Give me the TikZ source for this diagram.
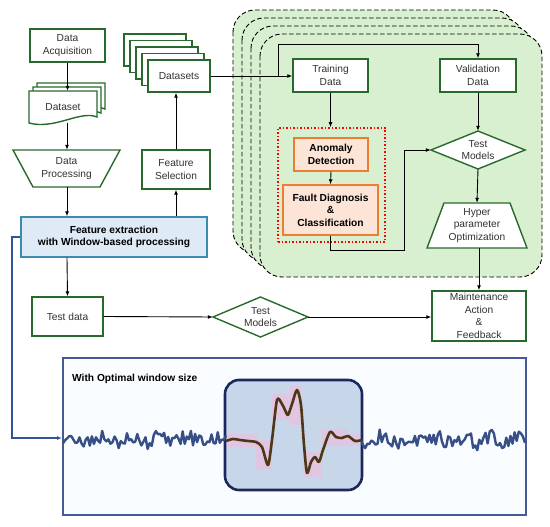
\documentclass[tikz,border=0pt]{standalone}
\usepackage{fontspec}
\setmainfont{Liberation Sans}
\usetikzlibrary{arrows.meta}
\definecolor{gborder}{RGB}{40,105,45}
\definecolor{gfill}{RGB}{217,240,208}
\definecolor{feborder}{RGB}{60,140,175}
\definecolor{fefill}{RGB}{222,234,246}
\definecolor{oborder}{RGB}{237,125,49}
\definecolor{ofill}{RGB}{252,228,214}
\definecolor{navy}{RGB}{28,40,90}
\definecolor{winfill}{RGB}{200,214,234}
\definecolor{sigblue}{RGB}{55,78,135}
\definecolor{linkblue}{RGB}{50,85,150}
\definecolor{boxblue}{RGB}{70,90,150}
\definecolor{txt}{RGB}{50,50,50}
\definecolor{glow}{RGB}{245,185,222}
\definecolor{sigbrown}{RGB}{78,55,20}
\newcommand\myfs{\fontsize{10.2}{12.5}\selectfont}
\newcommand\mybf{\fontsize{10.2}{12.5}\selectfont\bfseries}
\begin{document}
\begin{tikzpicture}[x=1pt,y=-1pt,
  nd/.style={rectangle, inner sep=0pt, align=center, font=\myfs, text=txt},
  gbox/.style={nd, draw=gborder, line width=1.4pt, fill=white},
  gshape/.style={draw=gborder, line width=1.4pt, fill=white, line join=miter},
  obox/.style={nd, draw=oborder, line width=1.4pt, fill=ofill, font=\mybf, text=black},
  arr/.style={draw=black, line width=0.9pt, -{Latex[length=5pt,width=4pt]}},
  region/.style={draw=black, line width=0.9pt, dash pattern=on 4.5pt off 2.5pt, fill=gfill, rounded corners=22pt},
  sig/.style={draw=sigblue, line width=2.4pt, line join=round},
]
\useasboundingbox (0,0) rectangle (550,527);

% ---------- green stacked region ----------
\foreach \k in {3,2,1,0}{
  \path[region] (260-9*\k,34-8*\k) rectangle (542-9*\k,277-8*\k);
}

% ---------- left column ----------
\node[gbox, minimum width=75pt, minimum height=33pt] (acq) at (67.5,45.5) {Data\\Acquisition};

% dataset document stack
\foreach \d in {8,4,0}{
  \path[gshape] (29+\d,91-\d) -- (97+\d,91-\d) -- (97+\d,117-\d)
     .. controls (80+\d,110-\d) and (55+\d,130-\d) .. (29+\d,123-\d) -- cycle;
}
\node[nd, minimum width=68pt, minimum height=32pt] (dsd) at (63,107) {Dataset};

% data processing trapezoid
\path[gshape] (13,150) -- (120,150) -- (100,187) -- (33,187) -- cycle;
\node[nd, minimum width=107pt, minimum height=37pt] (proc) at (66.5,168.5) {Data\\Processing};

% feature extraction
\node[nd, draw=feborder, fill=fefill, line width=1.4pt, minimum width=186pt, minimum height=40pt,
      font=\mybf, text=black] (fe) at (114,237) {Feature extraction\\with Window-based processing};

% feature selection
\node[gbox, minimum width=68pt, minimum height=39pt] (fs) at (176,169.5) {Feature\\Selection};

% datasets stack
\foreach \k in {4,3,2,1}{
  \path[gshape] (148-6*\k,60-6.5*\k) rectangle (210-6*\k,92-6.5*\k);
}
\node[gbox, minimum width=62pt, minimum height=32pt] (dss) at (179,76) {Datasets};

% ---------- region content ----------
\node[gbox, minimum width=75pt, minimum height=33pt] (train) at (330.5,75.5) {Training\\Data};
\node[gbox, minimum width=76pt, minimum height=33pt] (val) at (478,75.5) {Validation\\Data};

\node[draw=red, line width=1.5pt, dotted, minimum width=107pt, minimum height=114pt, inner sep=0pt] (grp) at (331.5,185) {};
\node[obox, minimum width=74pt, minimum height=33pt] (anom) at (331,154.5) {Anomaly\\Detection};
\node[obox, minimum width=95pt, minimum height=50pt] (fault) at (330.5,210) {Fault Diagnosis\\\&\\Classification};

\path[gshape] (431,150) -- (478,131) -- (525,150) -- (478,169) -- cycle;
\node[nd, minimum width=94pt, minimum height=38pt] (tm1) at (478,150) {Test\\Models};

\path[gshape] (427,248) -- (527,248) -- (510,203) -- (444,203) -- cycle;
\node[nd, minimum width=100pt, minimum height=45pt] (hyp) at (477,225.5) {Hyper\\parameter\\Optimization};

% ---------- lower row ----------
\node[gbox, minimum width=71pt, minimum height=39pt] (test) at (67.5,316.5) {Test data};
\path[gshape] (213,317) -- (260.5,297) -- (308,317) -- (260.5,337) -- cycle;
\node[nd, minimum width=95pt, minimum height=40pt] (tm2) at (260.5,317) {Test\\Models};
\node[gbox, minimum width=94pt, minimum height=50pt] (maint) at (479,316) {Maintenance\\Action\\\&\\Feedback};

% ---------- connectors ----------
\draw[arr] (acq.south) -- (acq.south |- dsd.north);
\draw[arr] (67,123) -- (proc.north -| 67,0);
\draw[arr] (proc.south -| 67,0) -- (fe.north -| 67,0);
\draw[arr] (fs.south |- fe.north) -- (fs.south);
\draw[arr] (fs.north) -- (fs.north |- dss.south);
\draw[arr] (dss.east) -- (dss.east -| train.west);
\coordinate (br) at (278,76);
\coordinate (brtop) at (278,44);
\draw[arr] (br) -- (brtop) -| (val.north);
\draw[arr] (train.south) -- (train.south |- grp.north);
\draw[arr] (anom.south) -- (fault.north);
\coordinate (c1) at (404,250);
\draw[arr] (fault.south) |- (c1) |- (tm1.west);
\draw[arr] (val.south) -- (tm1.north);
\draw[arr] (tm1.south) -- (hyp.north);
\draw[arr] (hyp.south -| maint.north) -- (maint.north);
\draw[arr] (fe.south -| 67,0) -- (test.north);
\draw[arr] (test.east) -- (tm2.west);
\draw[arr] (tm2.east) -- (tm2.east -| maint.west);

% ---------- bottom panel ----------
\node[draw=boxblue, line width=1.1pt, fill={rgb,255:red,250;green,253;blue,255}, minimum width=463pt, minimum height=157pt, inner sep=0pt] (panel) at (294.5,436.5) {};
\node[anchor=west, font=\mybf, text=black, inner sep=0pt] (ttl) at (72,379) {With Optimal window size};
\node[draw=navy, line width=2.6pt, fill=winfill, rounded corners=14pt, minimum width=137pt, minimum height=110pt, inner sep=0pt] (win) at (293.5,435) {};

\coordinate (sigin) at (62,438);
\draw[linkblue, line width=1.2pt, -{Latex[length=5pt,width=4pt]}] (fe.west) -- (12,237) |- (sigin);

\pgfmathsetseed{11}
\draw[sig] plot[domain=63:226, samples=80] (\x, {440 + 7.5*rand + 3*sin(13*\x)});
\draw[sig] plot[domain=361:525, samples=80] (\x, {440 + 7.5*rand + 3*sin(13*\x)});

% pink glow blocks
\begin{scope}[fill=glow, opacity=0.55]
  \fill (228,434) rectangle (258,447);
  \fill (256,440) rectangle (272,470);
  \fill (272,394) rectangle (290,420);
  \fill (290,386) rectangle (301,425);
  \fill (303,452) rectangle (322,477);
  \fill (322,429) rectangle (348,446);
  \fill (348,434) rectangle (360,446);
\end{scope}
\def\wincurve{(226,441) (233,439) (240,440) (248,441) (256,442) (262,447) (268,465) (272,440) (277,400) (282,404) (285,410) (288,415) (292,404) (297,390) (301,405) (304,445) (307,473) (311,462) (315,457) (319,462) (323,450) (330,432) (336,437) (342,438) (348,436) (355,441) (362,440)}
\draw[sigbrown, line width=2.6pt, line join=round] plot[smooth, tension=0.45] coordinates {\wincurve};
\end{tikzpicture}
\end{document}
